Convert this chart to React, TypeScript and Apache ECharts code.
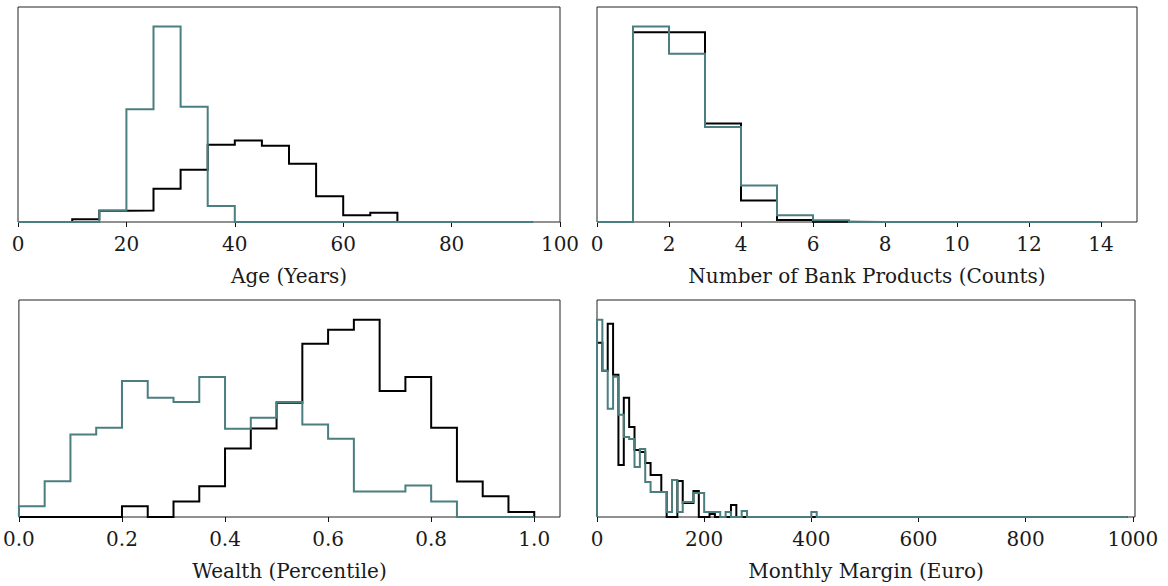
import React, { useEffect, useRef } from 'react';
import * as echarts from 'echarts';

const COLOR_A = '#000000';
const COLOR_B = '#4b7e7f';
const FONT = 'DejaVu Serif';
const FONT_SIZE = 20;

// Age (Years): 5-year bins starting at 0
const ageStart = 0;
const ageWidth = 5;
const ageA = [0, 0, 8, 34, 35, 100, 158, 233, 246, 230, 176, 78, 20, 28, 0, 0, 0, 0, 0];
const ageB = [0, 0, 0, 35, 340, 590, 348, 48, 0, 0, 0, 0, 0, 0, 0, 0, 0, 0, 0];
const ageTicks = [0, 20, 40, 60, 80, 100];

// Number of Bank Products (Counts): unit bins starting at 0
const prodStart = 0;
const prodWidth = 1;
const prodA = [0, 571, 571, 296, 65, 6, 1, 0, 0, 0, 0, 0, 0, 0];
const prodB = [0, 588, 506, 286, 110, 20, 5, 0, 0, 0, 0, 0, 0, 0];
const prodTicks = [0, 2, 4, 6, 8, 10, 12, 14];

// Wealth (Percentile): bins of 0.05 starting at 0
const wealthStart = 0;
const wealthWidth = 0.05;
const wealthA = [0, 0, 0, 0, 32, 0, 46, 92, 205, 265, 342, 518, 560, 590, 377, 419, 267, 106, 62, 15];
const wealthB = [32, 107, 247, 267, 407, 357, 344, 419, 264, 297, 344, 277, 234, 76, 76, 94, 46, 0, 0, 0];
const wealthTicks = [0, 0.2, 0.4, 0.6, 0.8, 1.0];

// Monthly Margin (Euro): 10-euro bins starting at 0
const marginStart = 0;
const marginWidth = 10;
const marginA = [
  174, 146, 193, 142, 52, 119, 90, 67, 65, 54,
  42, 42, 25, 0, 0, 36, 14, 14, 26, 0,
  0, 3, 0, 0, 0, 12, 0, 0, 0, 0,
  0, 0, 0, 0, 0, 0, 0, 0, 0, 0,
  0, 0, 0, 0, 0, 0, 0, 0, 0, 0,
  0, 0, 0, 0, 0, 0, 0, 0, 0, 0,
  0, 0, 0, 0, 0, 0, 0, 0, 0, 0,
  0, 0, 0, 0, 0, 0, 0, 0, 0, 0,
  0, 0, 0, 0, 0, 0, 0, 0, 0, 0,
  0, 0, 0, 0, 0, 0, 0, 0, 0,
];
const marginB = [
  197, 146, 108, 140, 102, 80, 78, 50, 68, 35,
  25, 25, 25, 5, 37, 5, 15, 15, 24, 24,
  5, 5, 5, 0, 5, 0, 0, 6, 0, 0,
  0, 0, 0, 0, 0, 0, 0, 0, 0, 0,
  5, 0, 0, 0, 0, 0, 0, 0, 0, 0,
  0, 0, 0, 0, 0, 0, 0, 0, 0, 0,
  0, 0, 0, 0, 0, 0, 0, 0, 0, 0,
  0, 0, 0, 0, 0, 0, 0, 0, 0, 0,
  0, 0, 0, 0, 0, 0, 0, 0, 0, 0,
  0, 0, 0, 0, 0, 0, 0, 0, 0,
];
const marginTicks = [0, 200, 400, 600, 800, 1000];

// Outline of a step histogram: up from the baseline, across each bin, back down.
function stepOutline(start: number, width: number, counts: number[]): number[][] {
  const pts: number[][] = [[start, 0]];
  counts.forEach((c, i) => {
    pts.push([start + i * width, c]);
    pts.push([start + (i + 1) * width, c]);
  });
  pts.push([start + counts.length * width, 0]);
  return pts;
}

const panels = [
  { grid: { left: 18, top: 7, width: 542, height: 215 }, min: 0, max: 100, ticks: ageTicks, name: 'Age (Years)', start: ageStart, width: ageWidth, a: ageA, b: ageB, fmt: (v: number) => String(v) },
  { grid: { left: 597, top: 7, width: 540, height: 215 }, min: 0, max: 15, ticks: prodTicks, name: 'Number of Bank Products (Counts)', start: prodStart, width: prodWidth, a: prodA, b: prodB, fmt: (v: number) => String(v) },
  { grid: { left: 18, top: 300, width: 542, height: 217 }, min: 0, max: 1.05, ticks: wealthTicks, name: 'Wealth (Percentile)', start: wealthStart, width: wealthWidth, a: wealthA, b: wealthB, fmt: (v: number) => v.toFixed(1) },
  { grid: { left: 597, top: 300, width: 538, height: 217 }, min: 0, max: 1004, ticks: marginTicks, name: 'Monthly Margin (Euro)', start: marginStart, width: marginWidth, a: marginA, b: marginB, fmt: (v: number) => String(v) },
];

export default function App() {
  const ref = useRef<HTMLDivElement>(null);

  useEffect(() => {
    if (!ref.current) return;
    const chart = echarts.init(ref.current, undefined, { renderer: 'svg' });

    const grids = panels.map((p) => ({
      ...p.grid,
      show: true,
      borderColor: '#222',
      borderWidth: 1,
      backgroundColor: 'transparent',
      containLabel: false,
    }));

    const xAxes = panels.map((p, i) => ({
      type: 'value',
      gridIndex: i,
      min: p.min,
      max: p.max,
      name: p.name,
      nameLocation: 'middle',
      nameGap: 44,
      nameTextStyle: { fontFamily: FONT, fontSize: FONT_SIZE, color: '#1a1a1a' },
      axisLine: { show: false },
      splitLine: { show: false },
      axisTick: {
        show: true,
        inside: false,
        length: 5,
        lineStyle: { color: '#111', width: 1 },
        customValues: p.ticks,
      },
      axisLabel: {
        show: true,
        margin: 12,
        fontFamily: FONT,
        fontSize: FONT_SIZE,
        color: '#1a1a1a',
        customValues: p.ticks,
        formatter: p.fmt,
        hideOverlap: false,
      },
    }));

    const yAxes = panels.map((p, i) => ({
      type: 'value',
      gridIndex: i,
      min: 0,
      max: Math.max(...p.a, ...p.b) * 1.1,
      show: false,
    }));

    const series: any[] = [];
    panels.forEach((p, i) => {
      series.push({
        type: 'line',
        xAxisIndex: i,
        yAxisIndex: i,
        data: stepOutline(p.start, p.width, p.a),
        symbol: 'none',
        clip: false,
        silent: true,
        z: 2,
        lineStyle: { color: COLOR_A, width: 2, join: 'miter' },
        itemStyle: { color: COLOR_A },
      });
      series.push({
        type: 'line',
        xAxisIndex: i,
        yAxisIndex: i,
        data: stepOutline(p.start, p.width, p.b),
        symbol: 'none',
        clip: false,
        silent: true,
        z: 3,
        lineStyle: { color: COLOR_B, width: 2, join: 'miter' },
        itemStyle: { color: COLOR_B },
      });
    });

    chart.setOption({
      animation: false,
      backgroundColor: '#ffffff',
      grid: grids,
      xAxis: xAxes,
      yAxis: yAxes,
      series,
    });

    return () => chart.dispose();
  }, []);

  return (
    <div
      ref={ref}
      style={{ position: 'absolute', left: 0, top: 0, width: 1168, height: 586 }}
    />
  );
}
